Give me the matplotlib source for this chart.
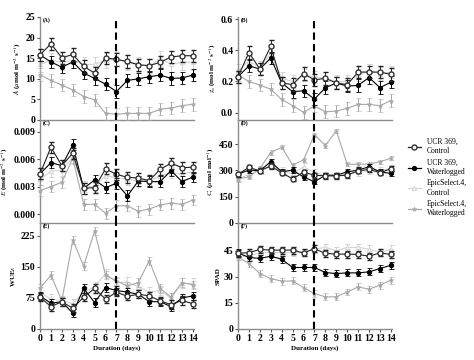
import matplotlib
matplotlib.use("Agg")
import matplotlib.pyplot as plt
from matplotlib.lines import Line2D
import numpy as np

plt.rcParams['font.family'] = ['Liberation Serif', 'DejaVu Serif']
plt.rcParams['mathtext.fontset'] = 'stix'

days = list(range(15))
series_names = ["UCR 369,\nControl", "UCR 369,\nWaterlogged", "EpicSelect.4,\nControl", "EpicSelect.4,\nWaterlogged"]

# Panel A: net photosynthesis
A_ucr_c = [15.8, 18.5, 15.1, 15.9, 13.0, 11.4, 15.1, 14.7, 14.2, 13.4, 13.2, 14.0, 15.3, 15.6, 15.6]
A_ucr_w = [15.8, 14.1, 12.8, 14.1, 11.4, 10.1, 8.7, 6.9, 9.6, 10.0, 10.5, 10.9, 10.1, 10.2, 10.9]
A_epi_c = [13.5, 14.5, 14.0, 14.5, 13.5, 13.5, 14.5, 14.8, 14.0, 13.5, 13.0, 15.0, 13.5, 14.0, 14.0]
A_epi_w = [11.0, 9.6, 8.5, 7.3, 5.7, 4.9, 1.6, 1.4, 1.6, 1.6, 1.6, 2.6, 2.9, 3.5, 3.8]
A_err = [1.5, 1.5, 1.8, 1.5]

# Panel B: stomatal conductance
B_ucr_c = [0.23, 0.385, 0.28, 0.425, 0.19, 0.18, 0.25, 0.21, 0.22, 0.19, 0.18, 0.26, 0.26, 0.26, 0.245]
B_ucr_w = [0.23, 0.30, 0.28, 0.35, 0.19, 0.135, 0.14, 0.087, 0.16, 0.19, 0.17, 0.175, 0.225, 0.16, 0.195]
B_epi_c = [0.27, 0.33, 0.29, 0.38, 0.22, 0.20, 0.24, 0.23, 0.22, 0.20, 0.20, 0.24, 0.27, 0.25, 0.26]
B_epi_w = [0.24, 0.20, 0.177, 0.15, 0.085, 0.045, 0.002, 0.043, 0.006, 0.01, 0.028, 0.053, 0.053, 0.045, 0.077]
B_err = [0.04, 0.04, 0.04, 0.04]

# Panel C: transpiration
C_ucr_c = [0.00439, 0.00732, 0.0053, 0.00666, 0.00282, 0.00289, 0.00494, 0.00435, 0.00402, 0.00395, 0.00366, 0.0049, 0.00556, 0.00509, 0.00512]
C_ucr_w = [0.00439, 0.00563, 0.0053, 0.00757, 0.00282, 0.00373, 0.00289, 0.00337, 0.00198, 0.00362, 0.00355, 0.00355, 0.00476, 0.00355, 0.00406]
C_epi_c = [0.0038, 0.0047, 0.0048, 0.0062, 0.0030, 0.0030, 0.0042, 0.0040, 0.0038, 0.0036, 0.0036, 0.0042, 0.0045, 0.0044, 0.0046]
C_epi_w = [0.00256, 0.0030, 0.00348, 0.0061, 0.00106, 0.00106, 0.0001, 0.0009, 0.0009, 0.0003, 0.00055, 0.0010, 0.0012, 0.00106, 0.00154]
C_err = [0.0006, 0.0006, 0.0006, 0.0006]

# Panel D: intercellular CO2
D_ucr_c = [279, 317, 298, 325, 287, 252, 290, 273, 269, 269, 273, 298, 306, 287, 310]
D_ucr_w = [279, 302, 298, 350, 292, 302, 263, 235, 273, 273, 292, 302, 321, 292, 283]
D_epi_c = [255, 275, 300, 330, 300, 280, 320, 290, 270, 270, 280, 290, 300, 300, 310]
D_epi_w = [252, 263, 312, 402, 433, 331, 360, 504, 442, 527, 335, 335, 337, 350, 369]
D_err = [15, 15, 20, 12]

# Panel E: water use efficiency
E_ucr_c = [77, 54, 66, 50, 77, 98, 72, 89, 79, 84, 80, 68, 59, 69, 61]
E_ucr_w = [80, 62, 66, 38, 98, 64, 100, 93, 89, 84, 66, 66, 54, 75, 80]
E_epi_c = [89, 72, 68, 61, 89, 102, 134, 112, 113, 102, 89, 93, 75, 110, 110]
E_epi_w = [98, 130, 68, 215, 152, 237, 130, 116, 104, 112, 165, 98, 77, 112, 107]
E_err = [10, 10, 12, 10]

# Panel F: SPAD
F_ucr_c = [43.5, 44.0, 45.8, 45.4, 45.4, 45.4, 43.8, 46.2, 43.5, 43.1, 43.1, 42.9, 41.9, 43.8, 42.9]
F_ucr_w = [43.8, 41.2, 40.6, 41.9, 40.2, 35.4, 35.4, 35.4, 32.5, 31.9, 32.3, 32.3, 32.9, 34.8, 36.7]
F_epi_c = [42, 42, 44, 44, 44, 44, 44, 46, 47, 45, 47, 47, 46, 44, 46]
F_epi_w = [41.5, 37.7, 31.9, 29.0, 27.5, 27.7, 23.8, 20.4, 18.5, 18.5, 21.3, 24.2, 22.9, 25.2, 28.1]
F_err = [2, 2, 2.2, 2]

panels = [
    ("(A)", r"$\mathit{A}$ ($\mu$mol m$^{-2}$ s$^{-1}$)", [A_ucr_c, A_ucr_w, A_epi_c, A_epi_w], A_err,
     (0, 25), [0, 5, 10, 15, 20, 25], "{:.0f}"),
    ("(B)", r"$g_s$ (mol m$^{-2}$ s$^{-1}$)", [B_ucr_c, B_ucr_w, B_epi_c, B_epi_w], B_err,
     (-0.047, 0.613), [0.0, 0.2, 0.4, 0.6], "{:.1f}"),
    ("(C)", r"$E$ (mol m$^{-2}$ s$^{-1}$)", [C_ucr_c, C_ucr_w, C_epi_c, C_epi_w], C_err,
     (-0.00098, 0.0103), [0.0, 0.003, 0.006, 0.009], "{:.3f}"),
    ("(D)", r"$C_i$ ($\mu$mol mol$^{-1}$)", [D_ucr_c, D_ucr_w, D_epi_c, D_epi_w], D_err,
     (0, 588), [0, 150, 300, 450], "{:.0f}"),
    ("(E)", r"WUE$_E$", [E_ucr_c, E_ucr_w, E_epi_c, E_epi_w], E_err,
     (0, 256), [0, 75, 150, 225], "{:.0f}"),
    ("(F)", "SPAD", [F_ucr_c, F_ucr_w, F_epi_c, F_epi_w], F_err,
     (0, 61), [0, 15, 30, 45], "{:.0f}"),
]

styles = [
    dict(color='#222222', marker='o', mfc='white', mec='#333333', mew=1.0, ms=3.6, zorder=5),
    dict(color='black', marker='o', mfc='black', mec='black', mew=0.6, ms=3.2, zorder=4),
    dict(color='#d4d4d4', marker='^', mfc='white', mec='#d4d4d4', mew=0.7, ms=3.0, zorder=2),
    dict(color='#a8a8a8', marker='*', mfc='#a8a8a8', mec='#a8a8a8', mew=0.4, ms=3.4, zorder=3),
]

fig = plt.figure(figsize=(4.74, 3.60), dpi=100)

lefts = [40 / 474, 238 / 474]
width = 154 / 474
rows = [(1 - 120 / 360, 103 / 360), (1 - 223 / 360, 103 / 360), (1 - 329 / 360, 106 / 360)]

for idx, (tag, ylab, data, errs, ylim, yt, fmt) in enumerate(panels):
    r, c = divmod(idx, 2)
    ax = fig.add_axes([lefts[c], rows[r][0], width, rows[r][1]])
    for k, (vals, st) in enumerate(zip(data, styles)):
        ax.errorbar(days, vals, yerr=errs[k], color=st['color'], marker=st['marker'],
                    mfc=st['mfc'], mec=st['mec'], mew=st['mew'], ms=st['ms'],
                    lw=0.8, elinewidth=0.7, capsize=1.8, capthick=0.7,
                    ecolor=st['color'], zorder=st['zorder'], clip_on=False)
    ax.axvline(7, color='black', ls=(0, (3.5, 2)), lw=1.5, zorder=6, clip_on=False)
    ax.set_xlim(0, 14.1)
    ax.set_ylim(*ylim)
    ax.set_yticks(yt)
    ax.set_yticklabels([fmt.format(v) for v in yt], fontsize=7, fontweight='bold')
    for s in ['top', 'right']:
        ax.spines[s].set_visible(False)
    for s in ['left', 'bottom']:
        ax.spines[s].set_color('#8c8c8c')
        ax.spines[s].set_linewidth(1.0)
    ax.tick_params(axis='y', length=2.5, width=0.8, color='#555555', pad=1)
    if r == 2:
        ax.set_xticks(days)
        ax.set_xticklabels([str(d) for d in days], fontsize=7, fontweight='bold')
        ax.tick_params(axis='x', length=2.5, width=0.8, color='#555555', pad=1)
        ax.set_xlabel("Duration (days)", fontsize=5, fontweight='bold', labelpad=2)
    else:
        ax.set_xticks([])
    ax.set_ylabel(ylab, fontsize=5, fontweight='bold', labelpad=2)
    ax.text(0.02, 0.995, tag, transform=ax.transAxes, fontsize=4, fontweight='bold',
            va='top', ha='left')
    ax.patch.set_alpha(0)

handles = []
for st in styles:
    handles.append(Line2D([0], [0], color=st['color'], marker=st['marker'], mfc=st['mfc'],
                          mec=st['mec'], mew=st['mew'], ms=st['ms'], lw=0.9))
fig.legend(handles, series_names, loc='upper left', bbox_to_anchor=(0.855, 0.625),
           frameon=False, fontsize=5.5, handlelength=1.6, labelspacing=0.45,
           handletextpad=0.8, borderaxespad=0)

fig.savefig("out.png", dpi=100)
